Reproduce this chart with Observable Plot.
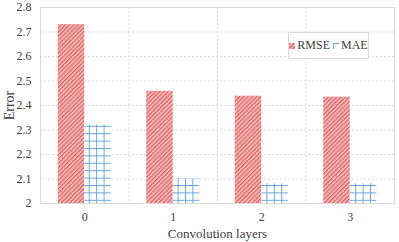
<!DOCTYPE html>
<html><head><meta charset="utf-8">
<script src="https://cdn.jsdelivr.net/npm/d3@7"></script>
<script src="https://cdn.jsdelivr.net/npm/@observablehq/plot@0.6"></script>
<style>
body{margin:0;background:#fff;font-family:"Liberation Serif","DejaVu Serif",serif;}
#wrap{position:relative;width:399px;height:242px;}
#legend{position:absolute;left:288px;top:32px;width:81px;height:27px;border:1px solid #d9d9d9;background:#fff;
display:flex;flex-wrap:nowrap;white-space:nowrap;align-items:center;justify-content:center;font-size:12px;color:#404040;box-sizing:border-box;}
#legend .item{display:flex;align-items:center;}
#legend svg{margin-right:2px;}
</style></head>
<body><div id="wrap"><div id="legend"></div></div>
<script>
const layers = [0, 1, 2, 3];
const rmse = [2.73, 2.458, 2.438, 2.434];
const mae = [2.32, 2.10, 2.08, 2.08];
const series = ["RMSE", "MAE"];
const yTicks = [2, 2.1, 2.2, 2.3, 2.4, 2.5, 2.6, 2.7, 2.8];

const barW = 0.3;
const rows = [];
layers.forEach((l, i) => {
  rows.push({layer: l, series: "RMSE", value: rmse[i], x1: l - barW, x2: l});
  rows.push({layer: l, series: "MAE", value: mae[i], x1: l, x2: l + barW});
});
const bounds = layers.slice(0, -1).map(l => l + 0.5);

const makeDefs = (p) => `<defs>
<pattern id="${p}hatch" width="3" height="3" patternUnits="userSpaceOnUse" patternTransform="rotate(45)">
<rect width="3" height="3" fill="#f8cccc"/>
<line x1="0.8" y1="0" x2="0.8" y2="3" stroke="#e06060" stroke-width="1.5"/>
</pattern>
<pattern id="${p}grid" width="7.4" height="7.4" patternUnits="userSpaceOnUse">
<rect width="7.4" height="7.4" fill="#ffffff"/>
<line x1="0.5" y1="0" x2="0.5" y2="7.4" stroke="#6aa3d9" stroke-width="1"/>
<line x1="0" y1="0.5" x2="7.4" y2="0.5" stroke="#6aa3d9" stroke-width="1"/>
</pattern></defs>`;

const chart = Plot.plot({
  width: 399, height: 242,
  marginLeft: 40, marginRight: 5, marginTop: 7, marginBottom: 39,
  style: {fontFamily: "'Liberation Serif','DejaVu Serif',serif", fontSize: "12px", color: "#404040", background: "#fff"},
  x: {domain: [-0.5, 3.5], ticks: layers, tickFormat: d => String(d), tickSize: 0, tickPadding: 9,
      label: "Convolution layers", labelAnchor: "center", labelOffset: 34, labelArrow: "none"},
  y: {domain: [2, 2.8], ticks: yTicks, tickFormat: d => d === 2 ? "2" : d3.format(".1f")(d), tickSize: 0, tickPadding: 9,
      label: "Error", labelAnchor: "center", labelOffset: 36, labelArrow: "none"},
  marks: [
    Plot.ruleY(yTicks, {stroke: "#d9d9d9", strokeDasharray: "2,2"}),
    Plot.ruleX(bounds, {stroke: "#d9d9d9", strokeDasharray: "2,2"}),
    Plot.rectY(rows, {x1: "x1", x2: "x2", y1: 2, y2: "value", fill: d => d.series === "RMSE" ? "url(#mhatch)" : "url(#mgrid)"}),
    Plot.frame({stroke: "#d9d9d9"})
  ]
});
chart.insertAdjacentHTML("afterbegin", makeDefs("m"));
chart.querySelectorAll("[aria-label='x-axis label'] text").forEach(t => t.style.fontSize = "13px");
chart.querySelectorAll("[aria-label='y-axis label'] text").forEach(t => t.style.fontSize = "14px");
document.getElementById("wrap").prepend(chart);

const lg = document.getElementById("legend");
series.forEach((s, i) => {
  const id = s === "RMSE" ? "lhatch" : "lgrid";
  const span = document.createElement("span");
  span.className = "item";
  if (i > 0) span.style.marginLeft = "3px";
  span.innerHTML = `<svg width="6" height="6">${i === 0 ? makeDefs("l") : ""}<rect width="6" height="6" fill="url(#${id})"/></svg>${s}`;
  lg.appendChild(span);
});
</script></body></html>
